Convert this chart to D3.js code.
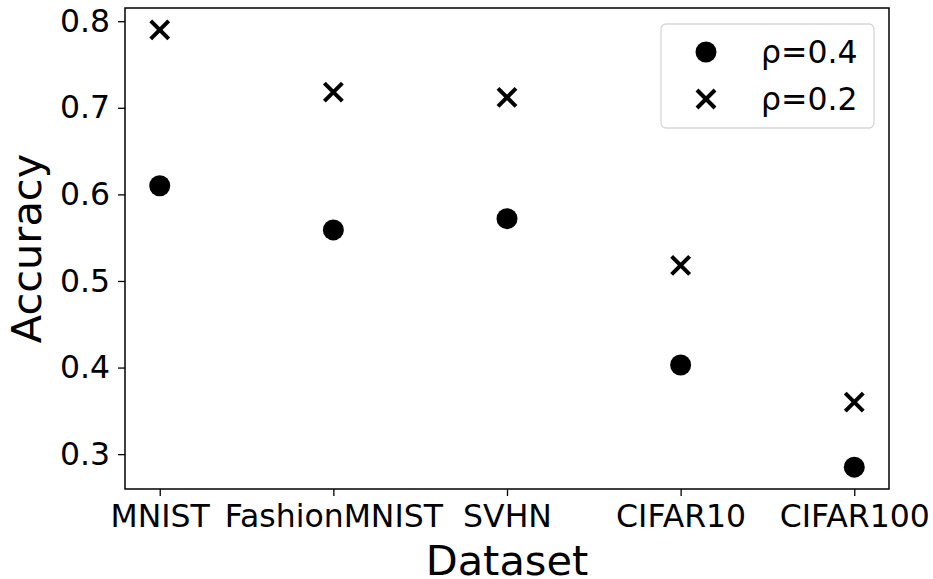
<!DOCTYPE html>
<html>
<head>
<meta charset="utf-8">
<script src="https://cdn.jsdelivr.net/npm/d3@7"></script>
<style>
  body { margin: 0; background: #fff; }
  text { font-family: "DejaVu Sans", sans-serif; fill: #000; }
</style>
</head>
<body>
<div id="chart"></div>
<script>
const datasets = ["MNIST", "FashionMNIST", "SVHN", "CIFAR10", "CIFAR100"];
const rho04 = [0.610, 0.559, 0.572, 0.403, 0.285];
const rho02 = [0.790, 0.718, 0.712, 0.518, 0.360];
const yTicks = [0.3, 0.4, 0.5, 0.6, 0.7, 0.8];
const seriesNames = ["ρ=0.4", "ρ=0.2"];

const W = 933, H = 579;
const m = {left: 125, right: 44, top: 8, bottom: 90};

const svg = d3.select("#chart").append("svg")
    .attr("width", W).attr("height", H);

// matplotlib style 5% margins
const x = d3.scaleLinear().domain([-0.2, datasets.length - 1 + 0.2])
    .range([m.left, W - m.right]);
const yMin = d3.min(rho04), yMax = d3.max(rho02), pad = (yMax - yMin) * 0.05;
const y = d3.scaleLinear().domain([yMin - pad, yMax + pad])
    .range([H - m.bottom, m.top]);

const xAxis = svg.append("g")
    .attr("transform", `translate(0,${H - m.bottom})`)
    .call(d3.axisBottom(x).tickValues(d3.range(datasets.length))
        .tickFormat(i => datasets[i]).tickSizeOuter(0).tickSize(7).tickPadding(9));
xAxis.select(".domain").remove();
xAxis.selectAll("text").style("font-size", "31.5px");
xAxis.selectAll("line").attr("stroke-width", 1.3);

const yAxis = svg.append("g")
    .attr("transform", `translate(${m.left},0)`)
    .call(d3.axisLeft(y).tickValues(yTicks).tickFormat(d3.format(".1f"))
        .tickSizeOuter(0).tickSize(7).tickPadding(8));
yAxis.select(".domain").remove();
yAxis.selectAll("text").style("font-size", "31.5px");
yAxis.selectAll("line").attr("stroke-width", 1.3);

svg.append("rect")
    .attr("x", m.left).attr("y", m.top)
    .attr("width", W - m.left - m.right).attr("height", H - m.top - m.bottom)
    .attr("fill", "none").attr("stroke", "#000").attr("stroke-width", 1.5);

const crossPath = s => `M${-s},${-s}L${s},${s}M${-s},${s}L${s},${-s}`;

svg.append("g").selectAll("circle").data(rho04).join("circle")
    .attr("cx", (d, i) => x(i)).attr("cy", d => y(d))
    .attr("r", 10.5).attr("fill", "#000");

svg.append("g").selectAll("path").data(rho02).join("path")
    .attr("transform", (d, i) => `translate(${x(i)},${y(d)})`)
    .attr("d", crossPath(9)).attr("stroke", "#000").attr("stroke-width", 4)
    .attr("fill", "none");

// legend
const lg = svg.append("g");
lg.append("rect").attr("x", 661).attr("y", 24).attr("width", 213).attr("height", 104)
    .attr("rx", 5).attr("fill", "#fff").attr("fill-opacity", 0.8)
    .attr("stroke", "#d6d6d6").attr("stroke-width", 1.3);
lg.append("circle").attr("cx", 706).attr("cy", 52).attr("r", 10.5).attr("fill", "#000");
lg.append("path").attr("transform", "translate(706,99)").attr("d", crossPath(9))
    .attr("stroke", "#000").attr("stroke-width", 4);
lg.selectAll("text.leg").data(seriesNames).join("text").attr("class", "leg")
    .attr("x", 761).attr("y", (d, i) => 52 + i * 47).attr("dy", "0.35em")
    .style("font-size", "31.5px").text(d => d);

svg.append("text")
    .attr("x", (m.left + W - m.right) / 2).attr("y", H - 4)
    .attr("text-anchor", "middle").style("font-size", "41.5px").text("Dataset");

svg.append("text")
    .attr("transform", `translate(41,${(m.top + H - m.bottom) / 2}) rotate(-90)`)
    .attr("text-anchor", "middle").style("font-size", "41.5px").text("Accuracy");
</script>
</body>
</html>
